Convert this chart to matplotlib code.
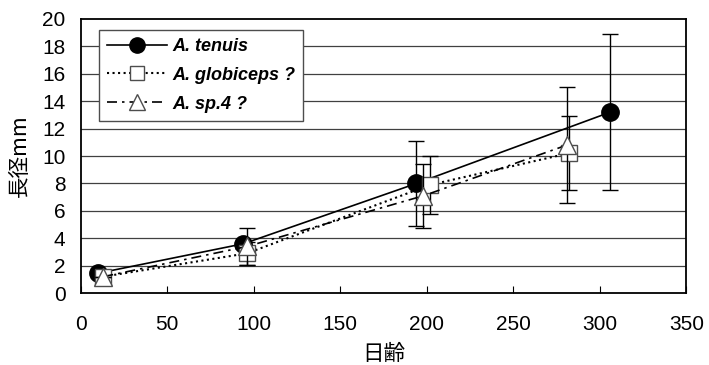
import matplotlib
matplotlib.use("Agg")
import matplotlib.pyplot as plt
from matplotlib.lines import Line2D

plt.rcParams['font.family'] = ['Liberation Sans', 'Noto Sans CJK JP', 'DejaVu Sans']

# A. tenuis
ten_x = [10, 94, 194, 306]
ten_y = [1.45, 3.6, 8.0, 13.2]
ten_err = [0.0, 0.0, 3.1, 5.7]

# A. globiceps ?
glo_x = [13, 96, 202, 282]
glo_y = [1.2, 2.9, 7.9, 10.2]
glo_err = [0.0, 0.85, 2.1, 2.7]

# A. sp.4 ?
sp4_x = [13, 96, 198, 281]
sp4_y = [1.2, 3.4, 7.1, 10.8]
sp4_err = [0.0, 1.35, 2.35, 4.25]

labels = ['A. tenuis', 'A. globiceps ?', 'A. sp.4 ?']

fig = plt.figure(figsize=(7.09, 3.65), dpi=100)
ax = fig.add_axes([0.114, 0.197, 0.854, 0.751])

for y in range(2, 20, 2):
    ax.axhline(y, color='0.25', lw=0.9, zorder=0)

ten_style = dict(color='black', ls='-', lw=1.2, marker='o', mfc='black', mec='black')
glo_style = dict(color='black', ls=':', lw=1.5, marker='s', mfc='white', mec='0.3', mew=1.0)
sp4_style = dict(color='black', ls=(0, (6, 3, 1.5, 3)), lw=1.2, marker='^',
                 mfc='white', mec='0.3', mew=1.0)

ekw = dict(ecolor='black', elinewidth=1.0, capsize=6, capthick=1.0)
ax.errorbar(glo_x, glo_y, yerr=glo_err, ms=11, zorder=3, **glo_style, **ekw)
ax.errorbar(sp4_x, sp4_y, yerr=sp4_err, ms=13, zorder=4, **sp4_style, **ekw)
ax.errorbar(ten_x, ten_y, yerr=ten_err, ms=12.5, zorder=2, **ten_style, **ekw)

ax.set_xlim(0, 350)
ax.set_ylim(0, 20)
ax.set_xticks(range(0, 351, 50))
ax.set_yticks(range(0, 21, 2))
ax.tick_params(axis='x', direction='in', length=5, labelsize=15, pad=16)
ax.tick_params(axis='y', length=0, labelsize=15, pad=11)
for s in ax.spines.values():
    s.set_linewidth(1.3)

ax.set_xlabel('日齢', fontsize=15.5, family=['Noto Sans CJK JP'], labelpad=6)
ax.set_ylabel('長径mm', fontsize=15.5, family=['Noto Sans CJK JP'], labelpad=8)

handles = [Line2D([], [], ms=11, **ten_style),
           Line2D([], [], ms=10, **glo_style),
           Line2D([], [], ms=11, **sp4_style)]
leg = ax.legend(handles, labels, loc='upper left',
                bbox_to_anchor=(0.03, 0.96), fancybox=False, framealpha=1,
                edgecolor='0.3', prop=dict(family='Liberation Sans', weight='bold',
                                           style='italic', size=13),
                handlelength=3.3, handletextpad=0.3, labelspacing=0.65,
                borderpad=0.45, borderaxespad=0)
leg.get_frame().set_linewidth(1.0)

fig.savefig('out.png', dpi=100)
